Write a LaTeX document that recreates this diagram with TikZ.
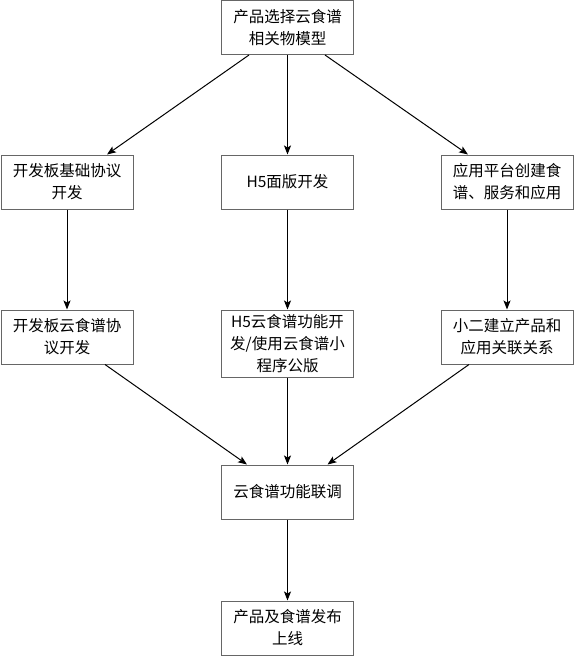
\documentclass[tikz,border=0pt]{standalone}
\usepackage{fontspec}
\newfontfamily\cjk{Noto Sans CJK SC}
\usetikzlibrary{arrows.meta}
\definecolor{boxgray}{RGB}{102,102,102}
\begin{document}
\begin{tikzpicture}[x=1pt,y=-1pt,
  box/.style={draw=boxgray,line width=1pt,minimum width=132pt,minimum height=54pt,inner sep=0pt,align=center,font=\cjk\fontsize{15.5}{22}\selectfont},
  conn/.style={draw=black,line width=1pt,-{Stealth[length=9pt,width=7pt,inset=2pt]}}]
\useasboundingbox (0,0) rectangle (574,656);
\node[box] (top) at (287.5,27.5) {产品选择云食谱\\相关物模型};
\node[box] (l2) at (67,182) {开发板基础协议\\开发};
\node[box] (m2) at (287.5,182) {H5面版开发};
\node[box] (r2) at (507,182) {应用平台创建食\\谱、服务和应用};
\node[box] (l3) at (67,337) {开发板云食谱协\\议开发};
\node[box,minimum height=67pt] (m3) at (287.5,343.5) {H5云食谱功能开\\发/使用云食谱小\\程序公版};
\node[box] (r3) at (507,337) {小二建立产品和\\应用关联关系};
\node[box] (m4) at (287.5,492) {云食谱功能联调};
\node[box] (m5) at (287.5,628) {产品及食谱发布\\上线};
\draw[conn] ([xshift=-38.5pt]top.south) -- ([xshift=40pt]l2.north);
\draw[conn] (top.south) -- (m2.north);
\draw[conn] ([xshift=37.5pt]top.south) -- ([xshift=-39pt]r2.north);
\draw[conn] (l2.south) -- (l3.north);
\draw[conn] (m2.south) -- (m3.north);
\draw[conn] (r2.south) -- (r3.north);
\draw[conn] ([xshift=38pt]l3.south) -- ([xshift=-40.5pt]m4.north);
\draw[conn] (m3.south) -- (m4.north);
\draw[conn] ([xshift=-38pt]r3.south) -- ([xshift=40pt]m4.north);
\draw[conn] (m4.south) -- (m5.north);
\end{tikzpicture}
\end{document}
